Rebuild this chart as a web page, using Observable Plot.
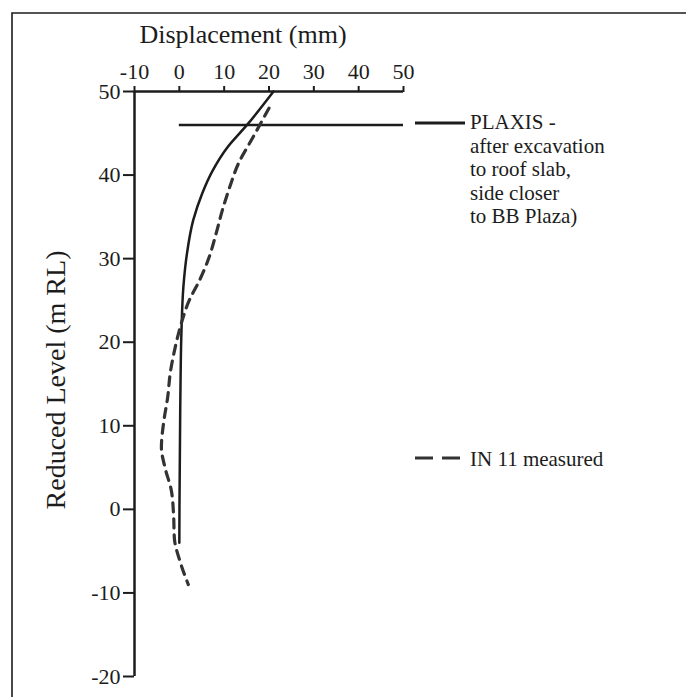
<!DOCTYPE html>
<html>
<head>
<meta charset="utf-8">
<script src="https://cdn.jsdelivr.net/npm/d3@7"></script>
<script src="https://cdn.jsdelivr.net/npm/@observablehq/plot@0.6"></script>
<style>
  html, body { margin: 0; padding: 0; background: #fff; }
  #chart { position: relative; width: 686px; height: 697px; overflow: hidden; }
  #chart svg { display: block; }
</style>
</head>
<body>
<div id="chart"></div>
<script>
// Axis ticks
const xTicks = [-10, 0, 10, 20, 30, 40, 50];
const yTicks = [50, 40, 30, 20, 10, 0, -10, -20];

// PLAXIS prediction: reduced level (m RL) and displacement (mm)
const plaxisLevel = [50, 46, 43.3, 40.5, 37.8, 34.6, 30.6, 26.6, 21.8, 12, -4];
const plaxisDisp  = [21, 15.1, 10.7, 7.4, 5.1, 3.1, 1.7, 0.9, 0.5, 0.2, 0];

// Inclinometer IN 11 readings
const measuredLevel = [48, 44.4, 41.4, 38.5, 35.8, 33, 30.1, 27.4, 25, 21.8, 18.7, 16.4, 13.4, 10.4, 7.4, 5, 2.3, -0.5, -3.5, -6.3, -9];
const measuredDisp  = [20, 16.3, 13.2, 11.2, 9.6, 8.2, 6.6, 4.5, 2.2, 0.2, -1.2, -2.0, -2.6, -3.5, -4.0, -3.2, -1.8, -1.3, -1.1, 0.2, 2.0];

// Roof slab excavation level and its extent
const excavationLevel = 46;
const excavationFrom = 0;
const excavationTo = 50;

const plaxis = plaxisLevel.map((level, i) => ({level, disp: plaxisDisp[i]}));
const measured = measuredLevel.map((level, i) => ({level, disp: measuredDisp[i]}));

const ink = "#1c1c1c";
const serif = "'Liberation Serif', 'Times New Roman', serif";
const xMin = d3.min(xTicks), xMax = d3.max(xTicks);
const yMin = d3.min(yTicks), yMax = d3.max(yTicks);

const chart = Plot.plot({
  width: 686,
  height: 697,
  marginLeft: 134,
  marginRight: 283,
  marginTop: 91,
  marginBottom: 21,
  x: {domain: [xMin, xMax]},
  y: {domain: [yMin, yMax]},
  style: {fontFamily: serif, fontSize: "22px", color: ink, background: "transparent", overflow: "visible"},
  marks: [
    Plot.axisX(xTicks, {anchor: "top", tickSize: 6, tickPadding: 7, strokeWidth: 2, fontSize: 22, tickFormat: d => String(d), label: null}),
    Plot.axisY(yTicks, {anchor: "left", tickSize: 11, tickPadding: 3, strokeWidth: 2, fontSize: 22, tickFormat: d => String(d), label: null}),
    Plot.ruleY([yMax], {x1: xMin, x2: xMax, stroke: ink, strokeWidth: 2.5}),
    Plot.ruleX([xMin], {y1: yMin, y2: yMax, stroke: ink, strokeWidth: 2.5}),
    Plot.ruleY([excavationLevel], {x1: excavationFrom, x2: excavationTo, stroke: ink, strokeWidth: 2.5}),
    Plot.line(plaxis, {x: "disp", y: "level", curve: "monotone-y", stroke: ink, strokeWidth: 2.5}),
    Plot.line(measured, {x: "disp", y: "level", curve: "monotone-y", stroke: "#333", strokeWidth: 3.2, strokeDasharray: "9,7"})
  ]
});

document.getElementById("chart").appendChild(chart);

// Titles, legend and the page frame
const svg = d3.select(chart);

svg.append("path")
  .attr("d", "M12,697V13H686")
  .attr("fill", "none")
  .attr("stroke", ink)
  .attr("stroke-width", 1.6);

svg.append("text")
  .attr("x", 243).attr("y", 43)
  .attr("text-anchor", "middle")
  .attr("font-family", serif).attr("font-size", 26).attr("fill", ink)
  .text("Displacement (mm)");

svg.append("text")
  .attr("transform", "translate(65,380) rotate(-90)")
  .attr("text-anchor", "middle")
  .attr("font-family", serif).attr("font-size", 28).attr("fill", ink)
  .text("Reduced Level (m RL)");

const legend = svg.append("g")
  .attr("font-family", serif).attr("font-size", 21).attr("fill", ink)
  .attr("text-anchor", "start");

legend.append("line")
  .attr("x1", 415).attr("x2", 465).attr("y1", 123).attr("y2", 123)
  .attr("stroke", ink).attr("stroke-width", 3);
const plaxisLines = ["PLAXIS -", "after excavation", "to roof slab,", "side closer", "to BB Plaza)"];
legend.append("text")
  .attr("x", 470).attr("y", 129)
  .selectAll("tspan").data(plaxisLines).join("tspan")
  .attr("x", 470).attr("dy", (d, i) => i === 0 ? 0 : 23.5)
  .text(d => d);

legend.append("line")
  .attr("x1", 415).attr("x2", 460).attr("y1", 458).attr("y2", 458)
  .attr("stroke", "#333").attr("stroke-width", 3.2).attr("stroke-dasharray", "18,9");
legend.append("text")
  .attr("x", 470).attr("y", 466)
  .text("IN 11 measured");
</script>
</body>
</html>
